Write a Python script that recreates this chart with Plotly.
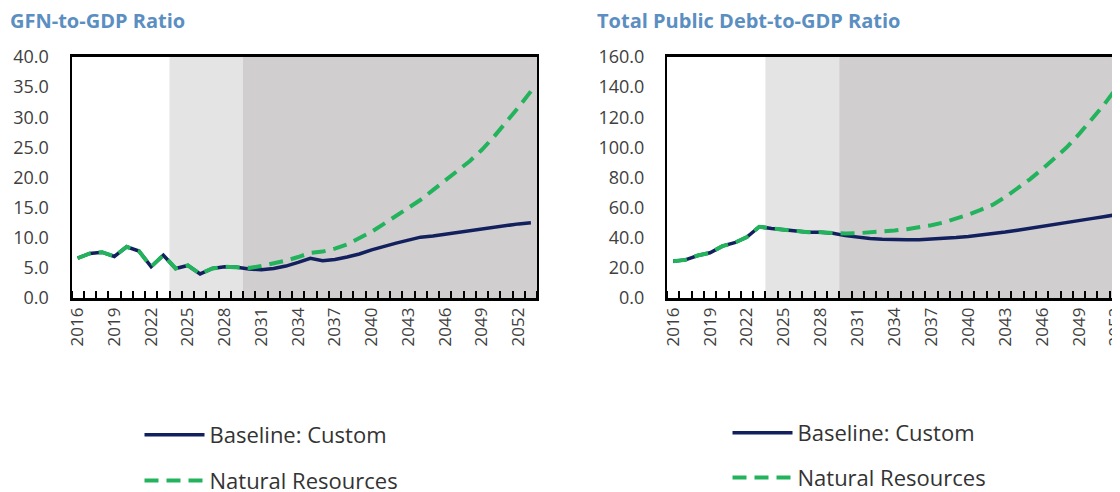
import plotly.graph_objects as go

years = list(range(2016, 2054))
tick_years = years[::3]
medium_term = [2024, 2029]
long_term = [2030, 2053]

gfn_baseline = [6.6, 7.4, 7.6, 6.9, 8.5, 7.8, 5.2, 7.1, 4.9, 5.4, 4.0, 4.9, 5.2, 5.1,
                4.8, 4.7, 4.9, 5.3, 5.9, 6.6, 6.2, 6.4, 6.8, 7.3, 8.0, 8.6, 9.1, 9.6,
                10.1, 10.3, 10.6, 10.9, 11.2, 11.5, 11.8, 12.0, 12.3, 12.5]
gfn_natural = [6.6, 7.4, 7.6, 6.9, 8.5, 7.8, 5.2, 7.1, 4.9, 5.4, 4.0, 4.9, 5.2, 5.1,
               5.0, 5.3, 5.7, 6.2, 6.8, 7.5, 7.7, 8.2, 8.9, 9.9, 11.0, 12.3, 13.6, 14.9,
               16.3, 17.9, 19.6, 21.1, 22.7, 24.6, 26.8, 29.2, 31.7, 34.3]

debt_baseline = [24.4, 25.3, 28.2, 30.0, 34.4, 36.7, 40.5, 47.3, 46.2, 45.2, 44.3, 43.6, 43.6, 43.0,
                 41.4, 40.3, 39.5, 39.0, 38.7, 38.6, 38.7, 39.0, 39.5, 40.1, 40.8, 41.7, 42.7, 43.8,
                 45.0, 46.2, 47.5, 48.8, 50.1, 51.4, 52.7, 54.0, 55.3, 56.5]
debt_natural = [24.4, 25.3, 28.2, 30.0, 34.4, 36.7, 40.5, 47.3, 46.2, 45.2, 44.3, 43.6, 43.6, 43.0,
                42.8, 43.0, 43.4, 44.0, 44.8, 45.7, 46.9, 48.3, 50.2, 52.6, 55.4, 58.5, 62.0, 67.0,
                72.8, 78.8, 85.5, 92.5, 100.0, 108.8, 118.0, 128.0, 139.0, 150.0]

NAVY = "#13205E"
GREEN = "#22B35C"
FONT = "Open Sans"
# the page body adds an 8px margin, so the figure is 8px smaller than the window
W, H = 1112, 484

fig = go.Figure()

panels = [
    ("x", "y", "legend", gfn_baseline, gfn_natural),
    ("x2", "y2", "legend2", debt_baseline, debt_natural),
]
for xa, ya, leg, base, nat in panels:
    fig.add_trace(go.Scatter(x=years, y=base, name="Baseline: Custom", mode="lines",
                             line=dict(color=NAVY, width=3.5), xaxis=xa, yaxis=ya,
                             legend=leg, legendgroup=leg + "a"))
    fig.add_trace(go.Scatter(x=years, y=nat, name="Natural Resources", mode="lines",
                             line=dict(color=GREEN, width=4, dash="14px,8px"), xaxis=xa, yaxis=ya,
                             legend=leg, legendgroup=leg + "b"))

    # projection period shading
    for band, col in ((medium_term, "#E4E4E4"), (long_term, "#D0CECF")):
        fig.add_shape(type="rect", xref=xa, yref=ya + " domain",
                      x0=band[0] - 0.5, x1=band[1] + 0.5, y0=0, y1=1,
                      fillcolor=col, line_width=0, layer="below")

y_dom = [1 - 290 / H, 1 - 49 / H]

xaxis_common = dict(
    tickmode="array", tickvals=tick_years, ticktext=[str(y) for y in tick_years],
    ticks="", tickangle=-90, tickfont=dict(size=17, color="#404040"),
    showline=True, linecolor="black", linewidth=2.5, showgrid=False, zeroline=False,
    automargin=False, ticklabeloverflow="allow",
    minor=dict(ticks="inside", tickmode="linear", tick0=2015.5, dtick=1,
               ticklen=7, tickwidth=1.5, tickcolor="black", showgrid=False),
)
yaxis_common = dict(
    ticks="", tickformat=".1f", tickfont=dict(size=18, color="#404040"),
    showline=True, linecolor="black", linewidth=2, showgrid=False, zeroline=False,
    ticklabelstandoff=17, automargin=False,
)
legend_common = dict(xanchor="left", yanchor="top", font=dict(size=22, color="#333333"),
                     bgcolor="rgba(0,0,0,0)", itemwidth=60)

fig.update_layout(
    width=W, height=H,
    margin=dict(l=0, r=0, t=0, b=0, autoexpand=False),
    paper_bgcolor="white", plot_bgcolor="white",
    font=dict(family=FONT, color="#404040"),
    xaxis=dict(domain=[63.5 / W, 529 / W], range=[2015.5, 2053.5], anchor="y", mirror=True,
               **xaxis_common),
    yaxis=dict(domain=y_dom, range=[0, 40], dtick=5, anchor="x", mirror=True, **yaxis_common),
    xaxis2=dict(domain=[659 / W, 1.0], range=[2015.5, 2052.33], anchor="y2", mirror=True,
                **xaxis_common),
    yaxis2=dict(domain=y_dom, range=[0, 160], dtick=20, anchor="x2", **yaxis_common),
    legend=dict(x=131.5 / W, y=1 - 406 / H, tracegroupgap=14, **legend_common),
    legend2=dict(x=719.5 / W, y=1 - 404 / H, tracegroupgap=13, **legend_common),
    annotations=[
        dict(text="<b>GFN-to-GDP Ratio</b>", x=0, y=1 - 13 / H, xref="paper", yref="paper",
             xanchor="left", yanchor="middle", showarrow=False,
             font=dict(size=20, color="#5B8EC1")),
        dict(text="<b>Total Public Debt-to-GDP Ratio</b>", x=587 / W, y=1 - 13 / H,
             xref="paper", yref="paper", xanchor="left", yanchor="middle", showarrow=False,
             font=dict(size=20, color="#5B8EC1")),
    ],
)

fig.write_html("out.html")
